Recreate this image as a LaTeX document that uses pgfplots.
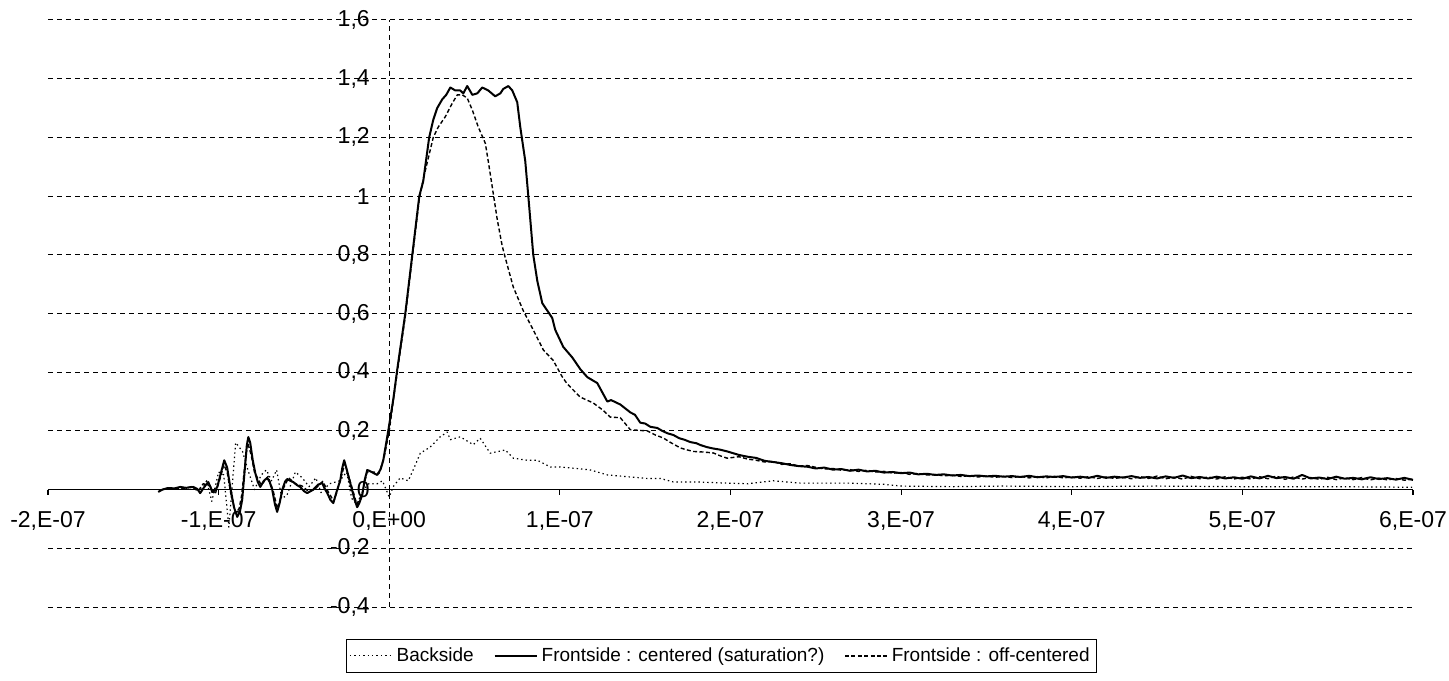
\documentclass[border=0pt]{standalone}
\usepackage{pgfplots}
\pgfplotsset{compat=1.18}
\usepackage{fontspec}
\setmainfont{Liberation Sans}

\begin{document}
\begin{tikzpicture}[x=1pt,y=1pt]
\path[use as bounding box] (-24,-36.5) rectangle (700.5,303.5);
\begin{axis}[
  at={(0,0)}, anchor=south west,
  scale only axis, width=682.5pt, height=293.5pt,
  xmin=-2e-7, xmax=6e-7, ymin=-0.4, ymax=1.6,
  axis lines=middle,
  axis line style={-},
  x axis line style={line width=0.7pt},
  y axis line style={line width=0.5pt, dash pattern=on 2.5pt off 2pt},
  hide obscured x ticks=false, hide obscured y ticks=false,
  xtick={-2e-7,-1e-7,0,1e-7,2e-7,3e-7,4e-7,5e-7,6e-7},
  xticklabels={{-2,E-07},{-1,E-07},{0,E+00},{1,E-07},{2,E-07},{3,E-07},{4,E-07},{5,E-07},{6,E-07}},
  ytick={-0.4,-0.2,0,0.2,0.4,0.6,0.8,1,1.2,1.4,1.6},
  yticklabels={{-0,4},{-0,2},{0},{0,2},{0,4},{0,6},{0,8},{1},{1,2},{1,4},{1,6}},
  scaled x ticks=false, scaled y ticks=false,
  tick label style={font=\fontsize{11.5}{13}\selectfont, text=black},
  xtick align=outside, major tick length=2.5pt,
  x tick style={line width=0.6pt, black},
  y tick style={draw=none},
  xticklabel style={yshift=-5pt},
  yticklabel style={xshift=-5pt},
  ymajorgrids,
  grid style={black, line width=0.5pt, dash pattern=on 2.5pt off 2pt},
  legend style={at={(0.5,0)}, anchor=north, yshift=-16pt, xshift=-4.5pt,
    draw=black, line width=0.5pt, fill=white,
    font=\fontsize{9.5}{11}\selectfont, inner xsep=1.5pt, inner ysep=2pt,
    /tikz/every even column/.append style={column sep=8pt}},
  legend columns=-1,
  legend image code/.code={\draw[#1] (0pt,0pt) -- (21pt,0pt);},
  every axis plot/.append style={line join=round},
]

% Backside probe
\addplot[black, line width=0.6pt, dash pattern=on 0.7pt off 1.5pt] table {
-1.10e-7 0.000
-1.07e-7 0.030
-1.04e-7 -0.040
-1.00e-7 0.060
-9.7e-8 0.050
-9.4e-8 -0.128
-9.0e-8 0.160
-8.6e-8 0.130
-8.3e-8 0.070
-7.9e-8 0.000
-7.5e-8 0.050
-7.2e-8 0.067
-6.9e-8 0.030
-6.6e-8 0.067
-6.3e-8 -0.030
-6.0e-8 -0.020
-5.5e-8 0.060
-5.1e-8 0.040
-4.7e-8 0.010
-4.3e-8 0.040
-4.0e-8 -0.010
-3.5e-8 0.020
-2.9e-8 0.030
-2.5e-8 0.060
-2.2e-8 -0.030
-1.9e-8 -0.050
-1.5e-8 0.000
-1.2e-8 0.020
-7e-9 0.020
-4e-9 0.030
0 -0.025
2.3e-9 0.010
6.4e-9 0.040
1.11e-8 0.030
1.41e-8 0.068
1.82e-8 0.124
2.40e-8 0.145
2.99e-8 0.180
3.40e-8 0.196
3.58e-8 0.170
4.16e-8 0.180
4.92e-8 0.153
5.33e-8 0.175
5.92e-8 0.124
6.80e-8 0.135
7.27e-8 0.107
8.09e-8 0.100
8.68e-8 0.100
9.44e-8 0.077
1.002e-7 0.077
1.079e-7 0.073
1.178e-7 0.067
1.278e-7 0.050
1.413e-7 0.043
1.512e-7 0.038
1.589e-7 0.038
1.665e-7 0.026
1.805e-7 0.026
1.981e-7 0.022
2.10e-7 0.020
2.25e-7 0.030
2.41e-7 0.022
2.70e-7 0.022
2.90e-7 0.018
3.00e-7 0.012
3.30e-7 0.010
3.60e-7 0.012
4.00e-7 0.010
4.50e-7 0.012
5.00e-7 0.010
5.50e-7 0.010
6.00e-7 0.008
};
\addlegendentry{Backside}

% Frontside, centered probe
\addplot[black, line width=1pt] table {
-1.354e-7 -0.008
-1.330e-7 0.000
-1.300e-7 0.005
-1.260e-7 0.004
-1.225e-7 0.009
-1.190e-7 0.006
-1.149e-7 0.009
-1.125e-7 0.002
-1.108e-7 -0.012
-1.085e-7 0.008
-1.061e-7 0.026
-1.045e-7 0.005
-1.038e-7 -0.008
-1.020e-7 -0.002
-1.008e-7 0.009
-9.85e-8 0.060
-9.67e-8 0.100
-9.50e-8 0.075
-9.32e-8 0.009
-9.10e-8 -0.060
-8.91e-8 -0.093
-8.75e-8 -0.075
-8.62e-8 -0.035
-8.45e-8 0.080
-8.35e-8 0.150
-8.26e-8 0.179
-8.15e-8 0.160
-8.00e-8 0.100
-7.85e-8 0.056
-7.70e-8 0.025
-7.56e-8 0.009
-7.35e-8 0.030
-7.15e-8 0.040
-7.00e-8 0.025
-6.86e-8 0.000
-6.70e-8 -0.050
-6.57e-8 -0.076
-6.42e-8 -0.045
-6.27e-8 0.000
-6.10e-8 0.028
-5.98e-8 0.036
-5.80e-8 0.030
-5.63e-8 0.026
-5.40e-8 0.015
-5.22e-8 0.009
-5.00e-8 -0.005
-4.81e-8 -0.012
-4.60e-8 -0.005
-4.45e-8 0.000
-4.20e-8 0.015
-3.93e-8 0.023
-3.80e-8 0.005
-3.63e-8 -0.012
-3.45e-8 -0.035
-3.28e-8 -0.046
-3.10e-8 -0.010
-2.87e-8 0.032
-2.75e-8 0.075
-2.64e-8 0.100
-2.50e-8 0.070
-2.29e-8 0.023
-2.05e-8 -0.030
-1.88e-8 -0.060
-1.75e-8 -0.045
-1.58e-8 -0.018
-1.45e-8 0.030
-1.29e-8 0.067
-1.10e-8 0.062
-9.4e-9 0.057
-7.0e-9 0.050
-5.0e-9 0.070
-3.5e-9 0.100
-6e-10 0.200
2.3e-9 0.305
4.7e-9 0.410
9.4e-9 0.600
1.35e-8 0.800
1.76e-8 1.000
1.99e-8 1.050
2.34e-8 1.200
2.58e-8 1.260
2.81e-8 1.300
3.11e-8 1.330
3.34e-8 1.345
3.58e-8 1.370
3.87e-8 1.360
4.16e-8 1.360
4.34e-8 1.350
4.57e-8 1.375
4.87e-8 1.345
5.16e-8 1.350
5.45e-8 1.370
5.80e-8 1.360
6.21e-8 1.340
6.51e-8 1.350
6.68e-8 1.365
6.98e-8 1.375
7.21e-8 1.360
7.50e-8 1.320
7.68e-8 1.235
7.97e-8 1.120
8.15e-8 1.000
8.44e-8 0.800
8.68e-8 0.710
8.97e-8 0.635
9.55e-8 0.585
9.73e-8 0.544
1.020e-7 0.486
1.073e-7 0.450
1.120e-7 0.410
1.161e-7 0.383
1.219e-7 0.363
1.278e-7 0.300
1.300e-7 0.305
1.354e-7 0.290
1.413e-7 0.263
1.440e-7 0.255
1.471e-7 0.228
1.500e-7 0.225
1.530e-7 0.214
1.571e-7 0.210
1.600e-7 0.200
1.630e-7 0.192
1.665e-7 0.186
1.700e-7 0.175
1.730e-7 0.170
1.764e-7 0.162
1.800e-7 0.158
1.823e-7 0.152
1.860e-7 0.145
1.899e-7 0.140
1.940e-7 0.136
1.981e-7 0.130
2.05e-7 0.118
2.10e-7 0.112
2.15e-7 0.108
2.20e-7 0.098
2.25e-7 0.094
2.30e-7 0.090
2.35e-7 0.084
2.40e-7 0.080
2.45e-7 0.078
2.50e-7 0.072
2.55e-7 0.075
2.60e-7 0.068
2.65e-7 0.070
2.70e-7 0.064
2.75e-7 0.068
2.80e-7 0.062
2.85e-7 0.064
2.90e-7 0.058
2.95e-7 0.060
3.00e-7 0.056
3.05e-7 0.058
3.10e-7 0.052
3.15e-7 0.054
3.20e-7 0.050
3.25e-7 0.052
3.30e-7 0.048
3.35e-7 0.050
3.40e-7 0.046
3.45e-7 0.048
3.50e-7 0.045
3.55e-7 0.047
3.60e-7 0.044
3.65e-7 0.046
3.70e-7 0.043
3.75e-7 0.047
3.80e-7 0.042
3.85e-7 0.045
3.90e-7 0.043
3.95e-7 0.046
4.00e-7 0.041
4.05e-7 0.044
4.10e-7 0.040
4.15e-7 0.047
4.20e-7 0.040
4.25e-7 0.044
4.30e-7 0.041
4.35e-7 0.046
4.40e-7 0.040
4.45e-7 0.043
4.50e-7 0.038
4.55e-7 0.045
4.60e-7 0.040
4.65e-7 0.048
4.70e-7 0.039
4.75e-7 0.043
4.80e-7 0.038
4.85e-7 0.044
4.90e-7 0.038
4.95e-7 0.042
5.00e-7 0.037
5.05e-7 0.045
5.10e-7 0.038
5.15e-7 0.047
5.20e-7 0.039
5.25e-7 0.043
5.30e-7 0.037
5.35e-7 0.050
5.40e-7 0.038
5.45e-7 0.041
5.50e-7 0.036
5.55e-7 0.044
5.60e-7 0.037
5.65e-7 0.040
5.70e-7 0.035
5.75e-7 0.042
5.80e-7 0.036
5.85e-7 0.039
5.90e-7 0.034
5.95e-7 0.040
6.00e-7 0.033
};
\addlegendentry{Frontside : centered (saturation?)}

% Frontside, off-centered probe
\addplot[black, line width=0.7pt, dash pattern=on 2pt off 1.2pt] table {
-1.33e-7 0.000
-1.28e-7 0.006
-1.22e-7 0.002
-1.16e-7 0.010
-1.12e-7 -0.005
-1.09e-7 0.020
-1.05e-7 0.012
-1.02e-7 -0.015
-9.9e-8 0.040
-9.7e-8 0.085
-9.5e-8 0.060
-9.3e-8 -0.010
-9.0e-8 -0.080
-8.8e-8 -0.065
-8.65e-8 -0.020
-8.45e-8 0.090
-8.3e-8 0.160
-8.1e-8 0.120
-7.9e-8 0.060
-7.5e-8 0.015
-7.1e-8 0.045
-6.8e-8 -0.005
-6.55e-8 -0.065
-6.4e-8 -0.035
-6.2e-8 0.005
-5.9e-8 0.040
-5.5e-8 0.020
-5.1e-8 0.012
-4.7e-8 -0.008
-4.3e-8 0.005
-3.9e-8 0.028
-3.6e-8 -0.005
-3.25e-8 -0.040
-3.05e-8 -0.005
-2.9e-8 0.025
-2.6e-8 0.090
-2.45e-8 0.060
-2.3e-8 0.030
-1.9e-8 -0.050
-1.6e-8 -0.015
-1.3e-8 0.060
-9e-9 0.060
-6e-9 0.055
-3e-9 0.110
0 0.200
2.3e-9 0.300
4.7e-9 0.400
9.4e-9 0.590
1.35e-8 0.790
1.76e-8 0.990
2.0e-8 1.060
2.29e-8 1.130
2.58e-8 1.200
2.87e-8 1.235
3.28e-8 1.270
3.69e-8 1.316
3.99e-8 1.345
4.28e-8 1.345
4.57e-8 1.334
4.87e-8 1.293
5.22e-8 1.235
5.63e-8 1.180
5.80e-8 1.120
6.04e-8 1.030
6.33e-8 0.920
6.62e-8 0.830
6.80e-8 0.790
7.27e-8 0.690
7.85e-8 0.610
8.44e-8 0.544
9.03e-8 0.476
9.61e-8 0.440
1.014e-7 0.384
1.043e-7 0.360
1.120e-7 0.315
1.196e-7 0.295
1.254e-7 0.270
1.295e-7 0.247
1.354e-7 0.245
1.413e-7 0.204
1.460e-7 0.202
1.512e-7 0.200
1.560e-7 0.186
1.606e-7 0.176
1.650e-7 0.160
1.706e-7 0.142
1.740e-7 0.136
1.782e-7 0.130
1.840e-7 0.128
1.899e-7 0.125
1.940e-7 0.115
1.981e-7 0.107
2.05e-7 0.112
2.10e-7 0.104
2.15e-7 0.100
2.20e-7 0.094
2.25e-7 0.096
2.30e-7 0.086
2.35e-7 0.088
2.40e-7 0.080
2.45e-7 0.082
2.50e-7 0.076
2.55e-7 0.070
2.60e-7 0.072
2.65e-7 0.066
2.70e-7 0.068
2.75e-7 0.062
2.80e-7 0.066
2.85e-7 0.060
2.90e-7 0.062
2.95e-7 0.056
3.00e-7 0.058
3.05e-7 0.052
3.10e-7 0.055
3.15e-7 0.050
3.20e-7 0.051
3.25e-7 0.047
3.30e-7 0.049
3.35e-7 0.045
3.40e-7 0.047
3.45e-7 0.043
3.50e-7 0.046
3.55e-7 0.042
3.60e-7 0.045
3.65e-7 0.041
3.70e-7 0.045
3.75e-7 0.040
3.80e-7 0.044
3.85e-7 0.040
3.90e-7 0.045
3.95e-7 0.040
4.00e-7 0.043
4.05e-7 0.039
4.10e-7 0.044
4.15e-7 0.038
4.20e-7 0.043
4.25e-7 0.038
4.30e-7 0.042
4.35e-7 0.037
4.40e-7 0.044
4.45e-7 0.038
4.50e-7 0.046
4.55e-7 0.037
4.60e-7 0.042
4.65e-7 0.036
4.70e-7 0.045
4.75e-7 0.037
4.80e-7 0.043
4.85e-7 0.036
4.90e-7 0.044
4.95e-7 0.036
5.00e-7 0.042
5.05e-7 0.036
5.10e-7 0.044
5.15e-7 0.037
5.20e-7 0.046
5.25e-7 0.035
5.30e-7 0.043
5.35e-7 0.036
5.40e-7 0.041
5.45e-7 0.035
5.50e-7 0.042
5.55e-7 0.034
5.60e-7 0.040
5.65e-7 0.034
5.70e-7 0.041
5.75e-7 0.033
5.80e-7 0.039
5.85e-7 0.033
5.90e-7 0.038
5.95e-7 0.032
6.00e-7 0.036
};
\addlegendentry{Frontside : off-centered}

\end{axis}
\end{tikzpicture}
\end{document}
